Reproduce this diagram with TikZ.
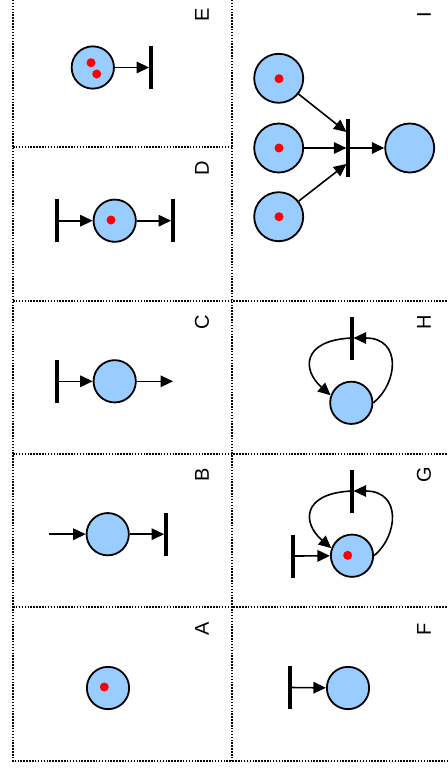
\documentclass[tikz,border=0pt]{standalone}
\usepackage{fontspec}
\setmainfont{Liberation Sans}
\usetikzlibrary{arrows.meta,calc}
\definecolor{placeblue}{HTML}{99CCFF}
\definecolor{tokenred}{HTML}{FF0000}
\begin{document}
\begin{tikzpicture}[x=1pt,y=-1pt,
  place/.style={circle,draw=black,fill=placeblue,line width=1.8pt,minimum size=42.3pt,inner sep=0pt},
  bigplace/.style={place,minimum size=49pt},
  token/.style={circle,fill=tokenred,minimum size=9pt,inner sep=0pt,outer sep=0pt},
  bar/.style={rectangle,fill=black,minimum width=3.8pt,minimum height=43pt,inner sep=0pt,outer sep=0pt},
  bigbar/.style={bar,minimum height=57.5pt},
  arc/.style={-{Triangle[length=12.5pt,width=11.5pt]},line width=1.6pt},
  gridline/.style={line width=1.5pt,dash pattern=on 1.5pt off 1.4pt},
  lbl/.style={font=\fontsize{20pt}{24pt}\selectfont,rotate=90,inner sep=0pt}]
\useasboundingbox (0,0) rectangle (447,776);

% grid
\draw[gridline] (13,0) -- (13,761) -- (447,761);
\draw[gridline] (232,0) -- (232,761);
\draw[gridline] (13,147) -- (232,147);
\draw[gridline] (13,301) -- (447,301);
\draw[gridline] (13,454) -- (447,454);
\draw[gridline] (13,607) -- (447,607);

% labels
\node[lbl] (lA) at (202,629) {A};
\node[lbl] (lB) at (202,475) {B};
\node[lbl] (lC) at (202,322) {C};
\node[lbl] (lD) at (202,168) {D};
\node[lbl] (lE) at (202,15) {E};
\node[lbl] (lF) at (424,629) {F};
\node[lbl] (lG) at (424,475) {G};
\node[lbl] (lH) at (424,322) {H};
\node[lbl] (lI) at (424,15) {I};

% A
\node[place] (ac) at (108,688) {};
\node[token] (at1) at (104.3,687) {};

% B
\coordinate (bin) at (49.3,534.2);
\node[place] (bc) at (107.7,534.2) {};
\node[bar] (bb) at (166,534.2) {};
\draw[arc] (bin) -- (bc);
\draw[arc] (bc) -- (bb);

% C
\node[bar] (cb) at (56.7,381.3) {};
\node[place] (cc) at (114.7,381.3) {};
\coordinate (cout) at (173,381.3);
\draw[arc] (cb) -- (cc);
\draw[arc] (cc) -- (cout);

% D
\node[bar] (dbl) at (56.7,220.7) {};
\node[place] (dc) at (114.7,220.7) {};
\node[token] (dt1) at (111,220) {};
\node[bar] (dbr) at (173,220.7) {};
\draw[arc] (dbl) -- (dc);
\draw[arc] (dc) -- (dbr);

% E
\node[place] (ec) at (92.8,67.5) {};
\node[token] (et1) at (91,62.7) {};
\node[token] (et2) at (96.7,74) {};
\node[bar] (eb) at (151,67.5) {};
\draw[arc] (ec) -- (eb);

% F
\node[bar] (fb) at (290,687.5) {};
\node[place] (fc) at (348,688) {};
\draw[arc] (fb) -- (fc);

% G
\node[bar] (gbl) at (293.3,556) {};
\node[place] (gc) at (352,555.7) {};
\node[token] (gt1) at (347.7,555.3) {};
\node[bar] (gbt) at (351.7,491) {};
\draw[arc] (gbl) -- (gc);
\draw[arc] (gc.east) .. controls (398,536) and (402,491) .. (gbt);
\draw[arc] (gbt) .. controls (302,494) and (302,523) .. (gc.160);

% H
\node[place] (hc) at (351.3,402.8) {};
\node[bar] (hb) at (351.7,338) {};
\draw[arc] (hc.east) .. controls (398,383) and (402,338) .. (hb);
\draw[arc] (hb) .. controls (302,341) and (302,370) .. (hc.160);

% I
\node[bigplace] (i1) at (278.7,78.3) {};
\node[token] (it1) at (279,78.7) {};
\node[bigplace] (i2) at (278.7,148) {};
\node[token] (it2) at (279,148) {};
\node[bigplace] (i3) at (278.7,216.7) {};
\node[token] (it3) at (279,216.7) {};
\node[bigbar] (ib) at (348.3,148) {};
\node[bigplace] (io) at (409.7,148) {};
\draw[arc] (i1) -- ($(ib.west)+(0,-16)$);
\draw[arc] (i2) -- (ib);
\draw[arc] (i3) -- ($(ib.west)+(0,16)$);
\draw[arc] (ib) -- (io);
\end{tikzpicture}
\end{document}
